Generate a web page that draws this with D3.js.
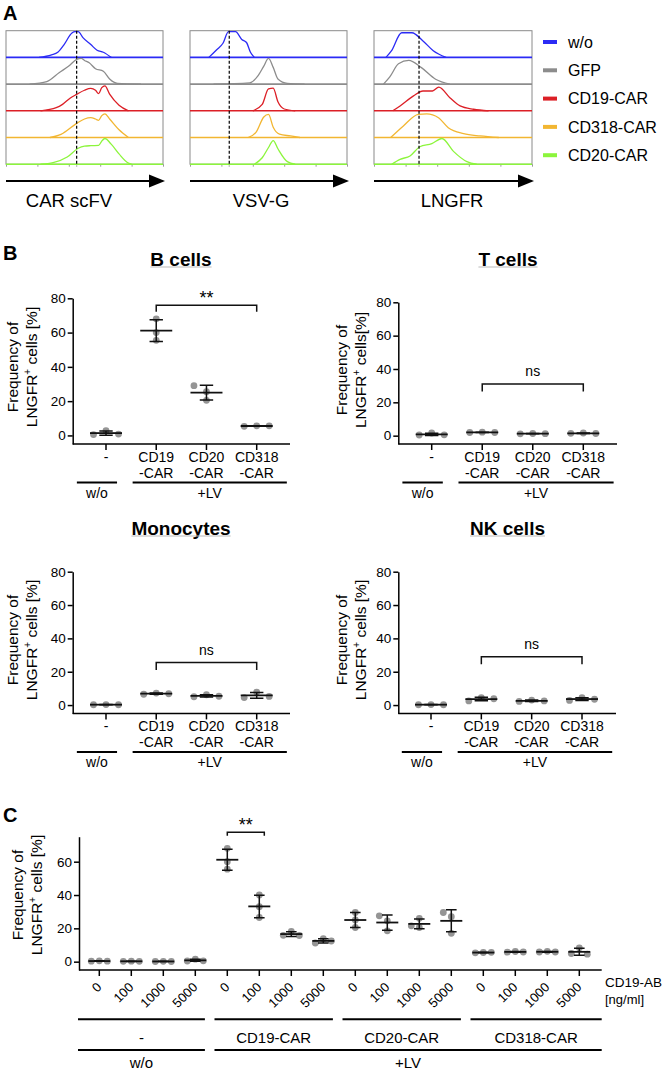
<!DOCTYPE html>
<html>
<head>
<meta charset="utf-8">
<script src="https://cdn.jsdelivr.net/npm/d3@7"></script>
<style>
body { margin: 0; background: #fff; }
svg { display: block; font-family: "Liberation Sans", Arial, sans-serif; }
</style>
</head>
<body>
<svg id="fig" width="664" height="1070"></svg>
<script>
// ---------- panel A: flow histograms, points are [fraction of log axis, fraction of row max]
const histMarkers = ["CAR scFV", "VSV-G", "LNGFR"];
const histGroups = ["w/o", "GFP", "CD19-CAR", "CD318-CAR", "CD20-CAR"];
const histGate = [0.45, 0.25, 0.285];

const histScfv = [
  [[0.21,0],[0.29,0.1],[0.33,0.2],[0.37,0.5],[0.42,0.95],[0.44,1],[0.46,1],[0.49,0.77],[0.54,0.5],[0.58,0.28],[0.62,0.2],[0.67,0]],
  [[0.15,0],[0.26,0.1],[0.34,0.45],[0.40,0.7],[0.45,0.96],[0.48,1],[0.50,0.92],[0.53,0.83],[0.57,0.6],[0.62,0.5],[0.66,0.2],[0.71,0.03],[0.86,0]],
  [[0.22,0],[0.32,0.12],[0.36,0.25],[0.41,0.5],[0.45,0.64],[0.50,0.8],[0.54,0.87],[0.57,0.8],[0.59,0.67],[0.61,0.9],[0.63,0.97],[0.66,0.65],[0.72,0.22],[0.78,0]],
  [[0.28,0],[0.35,0.12],[0.45,0.55],[0.50,0.72],[0.54,0.77],[0.57,0.72],[0.59,0.67],[0.61,0.85],[0.63,0.92],[0.66,0.72],[0.72,0.3],[0.78,0]],
  [[0.22,0],[0.30,0.06],[0.39,0.28],[0.46,0.62],[0.50,0.7],[0.54,0.72],[0.59,0.73],[0.61,0.9],[0.63,1],[0.67,0.78],[0.72,0.4],[0.78,0.04],[0.80,0]]
];
const histVsvg = [
  [[0.12,0],[0.17,0.3],[0.21,0.55],[0.245,1],[0.29,1],[0.33,0.7],[0.36,0.58],[0.385,0.2],[0.41,0]],
  [[0.15,0],[0.38,0.05],[0.43,0.3],[0.47,0.7],[0.50,1],[0.53,0.65],[0.56,0.2],[0.62,0.03],[0.73,0]],
  [[0.40,0],[0.46,0.25],[0.50,0.85],[0.53,0.88],[0.56,0.35],[0.60,0.07],[0.67,0]],
  [[0.37,0],[0.42,0.2],[0.47,0.8],[0.50,0.9],[0.53,0.4],[0.57,0.13],[0.64,0.06],[0.70,0]],
  [[0.41,0],[0.46,0.25],[0.50,0.65],[0.53,0.92],[0.56,0.6],[0.62,0.1],[0.67,0]]
];
const histLngfr = [
  [[0.076,0],[0.11,0.25],[0.175,0.96],[0.24,0.96],[0.31,0.64],[0.375,0.26],[0.456,0]],
  [[0.06,0],[0.10,0.28],[0.155,0.79],[0.22,0.92],[0.30,0.64],[0.39,0.19],[0.48,0]],
  [[0.118,0],[0.165,0.19],[0.25,0.58],[0.31,0.77],[0.37,0.77],[0.41,0.92],[0.48,0.51],[0.545,0.19],[0.63,0.06],[0.725,0]],
  [[0.106,0],[0.186,0.45],[0.28,0.9],[0.334,0.92],[0.408,0.77],[0.47,0.38],[0.567,0.15],[0.672,0.06],[0.79,0]],
  [[0.112,0],[0.165,0.19],[0.228,0.32],[0.29,0.68],[0.366,0.8],[0.43,1],[0.503,0.5],[0.588,0.1],[0.65,0]]
];

// ---------- panel B: % LNGFR+ cells, three donors per condition
const cellTypes = ["B cells", "T cells", "Monocytes", "NK cells"];
const bCategories = ["-", "CD19-CAR", "CD20-CAR", "CD318-CAR"];
const bCells    = [[2.8, 0.5, 0.8], [68, 60, 55.5], [20.5, 25.5, 29], [5.6, 5.3, 5.6]];
const tCells    = [[1.6, 0.4, 0.5], [2.1, 1.9, 1.9], [1.3, 1.1, 1.2], [1.6, 1.4, 1.3]];
const monocytes = [[0.3, 0.2, 0.2], [7.2, 6.5, 6.8], [6.2, 5.0, 5.3], [7.8, 4.5, 5.2]];
const nkCells   = [[0.3, 0.2, 0.2], [4.5, 2.5, 3.8], [3.0, 2.2, 2.5], [4.5, 2.8, 3.5]];
const bSignif = [["**", 76], ["ns", 31], ["ns", 25.5], ["ns", 29]];

// ---------- panel C: CD19 antibody blocking
const cDoses = ["0", "100", "1000", "5000"];
const cVectors = ["-", "CD19-CAR", "CD20-CAR", "CD318-CAR"];
const cWo    = [[0.5, 0.3, 0.3], [0.3, 0.2, 0.2], [0.2, 0.1, 0.1], [1.5, 0.4, 0.5]];
const cCD19  = [[68, 60, 55.5], [40, 33, 26.5], [18.2, 15.8, 15.7], [13.8, 11.2, 12.4]];
const cCD20  = [[29.5, 25, 20.5], [18.5, 24.5, 27.5], [20.5, 21.5, 26], [17, 27, 29.5]];
const cCD318 = [[5.5, 5.3, 5.6], [6.1, 5.7, 5.8], [6.2, 5.8, 5.8], [8.3, 4.9, 4.5]];
const cSignif = ["**", 77.7];

const histColors = ["#2b2bf5", "#8c8c8c", "#dc1f26", "#f2b632", "#8cf53c"];
const dotColor = "#959595";

const svg = d3.select("#fig");

// panel letters
[["A", 3, 20], ["B", 3, 260], ["C", 3, 822]].forEach(([t, x, y]) => {
  svg.append("text").attr("x", x).attr("y", y).attr("font-size", 20)
    .attr("font-weight", "bold").text(t);
});

// ================= panel A =================
const histLayout = [
  {x0: 6, x1: 163, lx: 69},
  {x0: 190, x1: 347, lx: 261},
  {x0: 374, x1: 532, lx: 452}
];
const rowTop = 30.7, rowH = 26.7;
[histScfv, histVsvg, histLngfr].forEach((curves, k) => {
  const L = histLayout[k];
  const g = svg.append("g");
  const x = d3.scaleLinear().domain([0, 1]).range([L.x0, L.x1]);
  const bottom = rowTop + rowH * curves.length;

  g.append("rect").attr("x", L.x0).attr("y", rowTop)
    .attr("width", L.x1 - L.x0).attr("height", bottom - rowTop)
    .attr("fill", "none").attr("stroke", "#8a8a8a").attr("stroke-width", 1);

  // little log ticks along the bottom
  const xl = d3.scaleLog().domain([10, 1e6]).range([L.x0, L.x1]);
  g.append("g").attr("transform", `translate(0,${bottom})`)
    .call(d3.axisBottom(xl).ticks(5).tickSize(2.5).tickFormat(""))
    .call(a => a.select(".domain").remove())
    .call(a => a.selectAll("line").attr("stroke", "#999"));

  curves.forEach((pts, i) => {
    const base = rowTop + rowH * (i + 1);
    const y = d3.scaleLinear().domain([0, 1]).range([base, base - rowH + 1]);
    g.append("line").attr("x1", L.x0).attr("x2", L.x1).attr("y1", base).attr("y2", base)
      .attr("stroke", histColors[i]).attr("stroke-width", 1.6);
    g.append("path").datum(pts)
      .attr("d", d3.line().x(d => x(d[0])).y(d => y(d[1])).curve(d3.curveMonotoneX))
      .attr("fill", "none").attr("stroke", histColors[i]).attr("stroke-width", 1.3);
  });

  g.append("line").attr("x1", x(histGate[k])).attr("x2", x(histGate[k]))
    .attr("y1", rowTop).attr("y2", bottom + 2)
    .attr("stroke", "#000").attr("stroke-width", 1.2).attr("stroke-dasharray", "3,2");

  // arrow
  const ay = 181, ax1 = L.x1 + 2;
  g.append("line").attr("x1", L.x0).attr("x2", ax1 - 14).attr("y1", ay).attr("y2", ay)
    .attr("stroke", "#000").attr("stroke-width", 2);
  g.append("path").attr("d", `M${ax1},${ay}L${ax1 - 16},${ay - 6.5}L${ax1 - 16},${ay + 6.5}Z`)
    .attr("fill", "#000");
  g.append("text").attr("x", L.lx).attr("y", 207).attr("text-anchor", "middle")
    .attr("font-size", 18.5).text(histMarkers[k]);
});

// legend
histGroups.forEach((name, i) => {
  const y = 42 + i * 28.3;
  svg.append("line").attr("x1", 543).attr("x2", 557).attr("y1", y).attr("y2", y)
    .attr("stroke", histColors[i]).attr("stroke-width", 4);
  svg.append("text").attr("x", 568).attr("y", y + 5.8).attr("font-size", 16).text(name);
});

// ================= shared helpers =================
function swarm(vals, y, step, minD) {
  const placed = [];
  return vals.map(v => {
    const py = y(v);
    let off = 0;
    for (const c of [0, -step, step, -2 * step, 2 * step]) {
      if (placed.every(p => Math.hypot(p[0] - c, p[1] - py) >= minD)) { off = c; break; }
    }
    placed.push([off, py]);
    return off;
  });
}

function drawPoints(g, cx, vals, y, o) {
  const offs = swarm(vals, y, o.step, 7);
  g.selectAll(null).data(vals).join("circle")
    .attr("cx", (d, i) => cx + offs[i]).attr("cy", d => y(d))
    .attr("r", 3.4).attr("fill", dotColor);
  const m = d3.mean(vals), sd = d3.deviation(vals);
  const path = d3.path();
  path.moveTo(cx, y(m + sd)); path.lineTo(cx, y(m - sd));
  path.moveTo(cx - o.cap, y(m + sd)); path.lineTo(cx + o.cap, y(m + sd));
  path.moveTo(cx - o.cap, y(m - sd)); path.lineTo(cx + o.cap, y(m - sd));
  g.append("path").attr("d", path.toString()).attr("fill", "none")
    .attr("stroke", "#111").attr("stroke-width", 1.5);
  g.append("line").attr("x1", cx - o.mean).attr("x2", cx + o.mean)
    .attr("y1", y(m)).attr("y2", y(m)).attr("stroke", "#111").attr("stroke-width", 1.8);
}

function yLabel(g, x1, x2, cy, tight) {
  g.append("text").attr("transform", `translate(${x1},${cy}) rotate(-90)`)
    .attr("text-anchor", "middle").attr("font-size", 15.5).text("Frequency of");
  const t2 = g.append("text").attr("transform", `translate(${x2},${cy}) rotate(-90)`)
    .attr("text-anchor", "middle").attr("font-size", 15.5);
  t2.append("tspan").text("LNGFR");
  t2.append("tspan").attr("dy", -6).attr("font-size", 10).text("+");
  t2.append("tspan").attr("dy", 6).text(tight ? " cells[%]" : " cells [%]");
}

function bracket(g, xa, xb, yb, tip, label, fs, dyLabel) {
  g.append("path").attr("d", `M${xa},${yb + tip}V${yb}H${xb}V${yb + tip}`)
    .attr("fill", "none").attr("stroke", "#111").attr("stroke-width", 1.5);
  g.append("text").attr("x", (xa + xb) / 2).attr("y", yb + dyLabel)
    .attr("text-anchor", "middle").attr("font-size", fs).text(label);
}

// ================= panel B =================
const bLayout = [
  {ax: 72.7, top: 298.3, bot: 444, end: 290, t0: 106, t3: 256.7, tx: 181, ty: 266, lx: [18, 37], ly: 367, tight: false},
  {ax: 398.3, top: 302.3, bot: 444, end: 617, t0: 431.7, t3: 583.3, tx: 508, ty: 266, lx: [347, 366], ly: 370, tight: true},
  {ax: 72.7, top: 571.7, bot: 713.4, end: 290, t0: 106, t3: 256.7, tx: 181, ty: 535, lx: [18, 37], ly: 640, tight: false},
  {ax: 398.3, top: 571.7, bot: 713.4, end: 616, t0: 431, t3: 582, tx: 507.5, ty: 535, lx: [347, 366], ly: 640, tight: false}
];

[bCells, tCells, monocytes, nkCells].forEach((series, k) => {
  const L = bLayout[k];
  const g = svg.append("g");
  const y = d3.scaleLinear().domain([-5, 80]).range([L.bot, L.top]);
  const x = d3.scalePoint().domain(bCategories).range([L.t0, L.t3]);
  const s = x.step();

  // title with faint underline
  const title = g.append("text").attr("x", L.tx).attr("y", L.ty).attr("text-anchor", "middle")
    .attr("font-size", 19).attr("font-weight", "bold").text(cellTypes[k]);
  const tw = title.node().getComputedTextLength();
  g.append("line").attr("x1", L.tx - tw / 2).attr("x2", L.tx + tw / 2)
    .attr("y1", L.ty + 1).attr("y2", L.ty + 1).attr("stroke", "#bbb").attr("stroke-width", 1);

  // y axis
  g.append("g").attr("transform", `translate(${L.ax},0)`)
    .call(d3.axisLeft(y).tickValues([0, 20, 40, 60, 80]).tickSize(5).tickSizeOuter(0).tickPadding(2))
    .call(a => a.selectAll("text").attr("font-size", 13.5).attr("fill", "#000")
      .attr("font-family", "Liberation Sans, Arial, sans-serif"))
    .call(a => a.selectAll("line,path").attr("stroke", "#000").attr("stroke-width", 1.5));

  // x axis
  g.append("line").attr("x1", L.ax).attr("x2", L.end).attr("y1", L.bot).attr("y2", L.bot)
    .attr("stroke", "#000").attr("stroke-width", 1.5);
  bCategories.forEach(c => {
    const cx = x(c);
    g.append("line").attr("x1", cx).attr("x2", cx).attr("y1", L.bot).attr("y2", L.bot + 6)
      .attr("stroke", "#000").attr("stroke-width", 1.5);
    const parts = c === "-" ? ["-"] : [c.split("-")[0], "-" + c.split("-")[1]];
    parts.forEach((p, j) => {
      g.append("text").attr("x", cx).attr("y", L.bot + 18 + j * 15.5).attr("text-anchor", "middle")
        .attr("font-size", 14).text(p);
    });
  });

  // treatment group lines
  const groups = [
    {label: "w/o", a: x("-") - 0.58 * s, b: x("-") + 0.22 * s},
    {label: "+LV", a: x("CD19-CAR") - 0.47 * s, b: x("CD318-CAR") + 0.6 * s}
  ];
  groups.forEach(gr => {
    g.append("line").attr("x1", gr.a).attr("x2", gr.b).attr("y1", L.bot + 38.5).attr("y2", L.bot + 38.5)
      .attr("stroke", "#000").attr("stroke-width", 2);
    g.append("text").attr("x", (gr.a + gr.b) / 2).attr("y", L.bot + 53.5).attr("text-anchor", "middle")
      .attr("font-size", 14).text(gr.label);
  });

  yLabel(g, L.lx[0], L.lx[1], L.ly, L.tight);

  series.forEach((vals, i) => drawPoints(g, x(bCategories[i]), vals, y, {step: 12.5, cap: 6.7, mean: 16}));

  const [lab, lev] = bSignif[k];
  if (lab === "**") bracket(g, x("CD19-CAR"), x("CD318-CAR"), y(lev), 6.7, lab, 18, -1);
  else bracket(g, x("CD19-CAR"), x("CD318-CAR"), y(lev), 7.5, lab, 14, -7.5);
});

// ================= panel C =================
(function () {
  const g = svg.append("g");
  const L = {ax: 79, top: 836.7, bot: 970, end: 601.7, t0: 99.3, step: 32};
  const y = d3.scaleLinear().domain([-5, 75]).range([L.bot, L.top]);
  const nCols = cVectors.length * cDoses.length;
  const x = d3.scaleLinear().domain([0, nCols - 1]).range([L.t0, L.t0 + L.step * (nCols - 1)]);

  g.append("g").attr("transform", `translate(${L.ax},0)`)
    .call(d3.axisLeft(y).tickValues([0, 20, 40, 60]).tickSize(5).tickSizeOuter(0).tickPadding(2))
    .call(a => a.selectAll("text").attr("font-size", 13.5).attr("fill", "#000")
      .attr("font-family", "Liberation Sans, Arial, sans-serif"))
    .call(a => a.selectAll("line,path").attr("stroke", "#000").attr("stroke-width", 1.5));

  g.append("line").attr("x1", L.ax).attr("x2", L.end).attr("y1", L.bot).attr("y2", L.bot)
    .attr("stroke", "#000").attr("stroke-width", 1.5);

  [cWo, cCD19, cCD20, cCD318].forEach((grp, gi) => {
    grp.forEach((vals, di) => {
      const cx = x(gi * cDoses.length + di);
      g.append("line").attr("x1", cx).attr("x2", cx).attr("y1", L.bot).attr("y2", L.bot + 6)
        .attr("stroke", "#000").attr("stroke-width", 1.5);
      g.append("text").attr("transform", `translate(${cx + 3},${L.bot + 18}) rotate(-45)`)
        .attr("text-anchor", "end").attr("font-size", 13).text(cDoses[di]);
      drawPoints(g, cx, vals, y, {step: 8, cap: 5.3, mean: 11});
    });
  });

  g.append("text").attr("x", 605).attr("y", 986.5).attr("font-size", 13.5).text("CD19-AB");
  g.append("text").attr("x", 605).attr("y", 1003.5).attr("font-size", 13).text("[ng/ml]");

  // vector group lines
  const half = cDoses.length - 1;
  cVectors.forEach((v, gi) => {
    const a = gi === 0 ? L.ax - 1 : x(gi * cDoses.length) - 0.4 * L.step;
    const b = gi === cVectors.length - 1 ? L.end : x(gi * cDoses.length + half) + 0.3 * L.step;
    g.append("line").attr("x1", a).attr("x2", b).attr("y1", 1019.3).attr("y2", 1019.3)
      .attr("stroke", "#000").attr("stroke-width", 2);
    g.append("text").attr("x", (a + b) / 2).attr("y", 1043).attr("text-anchor", "middle")
      .attr("font-size", 15).text(v);
  });
  const outer = [
    {label: "w/o", a: L.ax - 1, b: x(half) + 0.3 * L.step},
    {label: "+LV", a: x(cDoses.length) - 0.4 * L.step, b: L.end}
  ];
  outer.forEach(o => {
    g.append("line").attr("x1", o.a).attr("x2", o.b).attr("y1", 1050).attr("y2", 1050)
      .attr("stroke", "#000").attr("stroke-width", 2);
    g.append("text").attr("x", (o.a + o.b) / 2).attr("y", 1068).attr("text-anchor", "middle")
      .attr("font-size", 15).text(o.label);
  });

  yLabel(g, 23, 42, 895, false);

  bracket(g, x(4), x(5) + 5, y(cSignif[1]), 3.5, cSignif[0], 18, -1);
})();
</script>
</body>
</html>
